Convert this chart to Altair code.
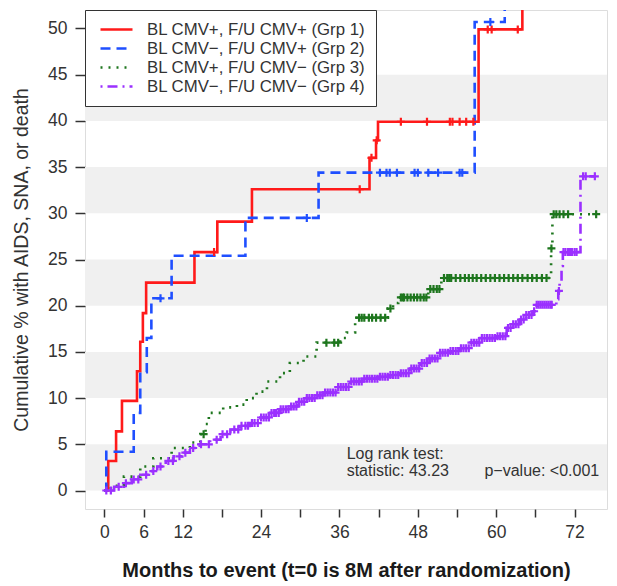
import altair as alt
import numpy as np
import pandas as pd

FONT = "Liberation Sans"

groups = [
    "BL CMV+, F/U CMV+ (Grp 1)",
    "BL CMV\u2212, F/U CMV+ (Grp 2)",
    "BL CMV+, F/U CMV\u2212 (Grp 3)",
    "BL CMV\u2212, F/U CMV\u2212 (Grp 4)",
]
colors = ["#FF1A1A", "#1F4FFF", "#1E761E", "#9B30FF"]
dashes = [[1, 0], [10, 6], [2, 6], [2, 5, 10, 5]]

# Group 1 (red)
g1_t = [0, 0.6, 1.8, 2.7, 5.0, 5.5, 5.9, 6.4, 13.8, 17.3, 22.6, 40.6, 41.6, 41.9, 57.3, 64.0]
g1_v = [0, 3.2, 6.4, 9.7, 12.9, 16.1, 19.2, 22.5, 25.8, 29.1, 32.6, 36.0, 37.9, 39.9, 49.9, 57.0]
g1_c = [16.8, 39.1, 40.9, 41.7, 45.4, 49.4, 52.9, 53.3, 54.4, 55.4, 56.5, 58.7, 59.3, 63.3]

# Group 2 (blue)
g2_t = [0, 0.3, 4.5, 5.5, 6.5, 7.2, 10.3, 21.6, 32.8, 56.7, 61.3]
g2_v = [0, 4.2, 8.4, 12.8, 16.5, 20.8, 25.4, 29.5, 34.4, 50.7, 55.0]
g2_c = [8.6, 31.0, 42.2, 43.2, 43.7, 44.8, 47.5, 48.0, 49.6, 51.1, 54.4, 54.8, 59.1]

# Group 3 (green)
g3_t = [0, 1.0, 3.0, 5.5, 7.5, 10.3, 13.1, 14.7, 15.5, 16.0, 18.2, 20.3, 21.8, 23.3, 24.9,
        26.9, 28.4, 30.5, 32.5, 36.1, 37.1, 38.4, 43.4, 44.2, 45.0, 49.6, 51.6, 68.4, 68.6, 75.3]
g3_v = [0, 0.5, 1.5, 2.6, 3.5, 4.6, 5.2, 6.1, 7.2, 8.4, 9.0, 9.3, 10.0, 10.7, 11.8,
        12.7, 13.8, 14.5, 16.0, 16.5, 17.1, 18.7, 19.7, 20.3, 20.9, 21.8, 23.0, 26.2, 29.9, 29.9]
g3_c = [15.2, 34.0, 35.2, 35.8, 39.0, 39.4, 39.8, 40.5, 41.0, 41.6, 42.3, 43.0, 43.8,
        45.4, 45.7, 45.9, 46.4, 46.9, 47.4, 47.9, 48.4, 48.9, 49.3, 49.9, 50.4, 50.9, 51.3,
        52.0, 52.5, 52.8, 53.1, 53.8, 54.5, 55.2, 55.8, 56.4, 57.0, 57.7, 58.4, 59.1, 59.8,
        60.5, 61.2, 61.9, 62.6, 63.3, 64.0, 64.8, 65.5, 66.2, 67.0, 67.7, 68.45,
        68.8, 69.2, 69.7, 70.3, 71.0, 75.3]

# Group 4 (purple)
g4_t = [0, 1.5, 3.0, 4.2, 5.5, 6.8, 8.1, 9.4, 10.6, 11.9, 13.1, 14.6, 16.2, 17.8, 19.3, 20.8,
        22.3, 23.9, 25.4, 26.9, 28.4, 29.7, 31.0, 32.3, 33.5, 35.5, 37.6, 39.5, 42.0, 43.5,
        45.3, 46.8, 48.3, 49.8, 51.4, 53.0, 54.4, 56.0, 57.5, 60.0, 61.6, 62.6, 63.6, 64.6,
        65.6, 66.2, 69.2, 69.5, 69.7, 70.0, 70.2, 72.9, 75.2]
g4_v = [0, 0.4, 0.8, 1.2, 1.7, 2.1, 2.6, 3.2, 3.7, 4.1, 4.6, 5.0, 5.5, 6.1, 6.6, 7.0,
        7.3, 7.9, 8.4, 8.8, 9.1, 9.6, 10.0, 10.3, 10.6, 11.2, 11.8, 12.1, 12.3, 12.5,
        12.7, 13.2, 13.8, 14.3, 14.9, 15.1, 15.4, 16.0, 16.5, 16.7, 17.6, 18.0, 18.5, 19.0,
        19.4, 20.1, 20.7, 21.6, 22.7, 24.3, 25.8, 34.0, 34.0]
g4_c = [0.3, 1.0, 2.2, 3.3, 4.5, 5.2, 6.4, 7.5, 8.6, 9.8, 10.5, 11.5, 12.4, 13.6, 14.8,
        16.0, 17.2, 18.1, 18.8, 19.9, 20.5, 21.0, 21.6, 22.0, 22.6, 23.0, 23.5, 24.0, 24.4,
        24.8, 25.2, 25.6, 26.0, 26.3, 26.7, 27.0, 27.4, 27.8, 28.2, 28.6, 29.0, 29.4, 29.8,
        30.2, 30.6, 31.0, 31.4, 31.8, 32.2, 32.6, 33.0, 33.4, 33.8, 34.2, 34.6, 35.0, 35.4,
        35.8, 36.2, 36.6, 37.0, 37.4, 37.8, 38.2, 38.6, 39.0, 39.4, 39.8, 40.2, 40.6, 41.0,
        41.4, 41.8, 42.2, 42.6, 43.0, 43.4, 43.8, 44.2, 44.6, 45.0, 45.4, 45.8, 46.2, 46.6,
        47.0, 47.4, 47.8, 48.2, 48.6, 49.0, 49.4, 49.8, 50.2, 50.6, 51.0, 51.4, 51.8, 52.2,
        52.6, 53.0, 53.4, 53.8, 54.2, 54.6, 55.0, 55.4, 55.8, 56.2, 56.6, 57.0, 57.4, 57.8,
        58.2, 58.6, 59.0, 59.4, 59.8, 60.2, 60.6, 61.0, 61.4, 61.8, 62.2, 62.6, 63.0, 63.4,
        63.8, 64.2, 64.6, 65.0, 65.4, 65.8, 66.2, 66.5, 66.8, 67.1, 67.4, 67.7, 68.0, 68.3,
        68.5, 69.6, 70.3, 70.6, 71.0, 71.3, 71.6, 72.0, 72.3, 73.3, 73.7, 75.1]

band_lo = [0, 10, 20, 30, 40]
band_hi = [5, 15, 25, 35, 45]

x_ticks = list(range(0, 73, 6))
y_ticks = list(range(0, 51, 5))

curves = [(g1_t, g1_v, g1_c), (g2_t, g2_v, g2_c), (g3_t, g3_v, g3_c), (g4_t, g4_v, g4_c)]

line_rows, cens_rows = [], []
for g, (t, v, c) in zip(groups, curves):
    for ti, vi in zip(t, v):
        line_rows.append({"t": ti, "v": vi, "grp": g})
    ta = np.array(t)
    for ci in c:
        idx = int(np.searchsorted(ta, ci, side="right")) - 1
        cens_rows.append({"t": ci, "v": v[idx], "grp": g})

lines_df = pd.DataFrame(line_rows)
cens_df = pd.DataFrame(cens_rows)
bands_df = pd.DataFrame({"lo": band_lo, "hi": band_hi})

W, H = 522, 499
xscale = alt.Scale(domain=[-2.96, 76.96], nice=False, zero=False)
yscale = alt.Scale(domain=[-2, 52], nice=False, zero=False)
cscale = alt.Scale(domain=groups, range=colors)
dscale = alt.Scale(domain=groups, range=dashes)

legend = alt.Legend(
    title=None, orient="none", legendX=0, legendY=0,
    symbolType="stroke", symbolSize=1024, symbolStrokeWidth=2.5,
    clipHeight=19, rowPadding=0, labelFontSize=16.8, labelFont=FONT,
    labelColor="#333333", labelOffset=13, padding=10, symbolOffset=4,
    strokeColor="#333333", fillColor="white", labelLimit=400,
)

bands = alt.Chart(bands_df).mark_rect(color="#F0F0F0").encode(
    y=alt.Y("lo:Q", scale=yscale),
    y2="hi:Q",
    x=alt.value(0),
    x2=alt.value(W),
)

xaxis = alt.Axis(
    values=x_ticks,
    labelExpr="datum.value <= 12 || datum.value % 12 == 0 ? datum.label : ''",
    grid=False, domain=False, tickSize=8, tickWidth=1.5, tickColor="#333333",
    labelPadding=6, labelFontSize=17.5, labelFont=FONT, labelColor="#333333",
    labelFlush=False, labelOverlap=False,
    title="Months to event (t=0 is 8M after randomization)",
    titleFontSize=20, titleFont=FONT, titleFontWeight="bold", titleColor="#1a1a1a",
    titlePadding=20,
)
yaxis = alt.Axis(
    values=y_ticks, grid=False, domain=False, tickSize=10, tickWidth=1.5,
    tickColor="#333333", labelPadding=8, labelFontSize=17.5, labelFont=FONT,
    labelColor="#333333", labelOverlap=False,
    title="Cumulative %  with AIDS, SNA, or death",
    titleFontSize=19.5, titleFont=FONT, titleFontWeight="normal", titleColor="#333333",
    titlePadding=16,
)

lines = alt.Chart(lines_df).mark_line(interpolate="step-after", strokeWidth=2.6, clip=True).encode(
    x=alt.X("t:Q", scale=xscale, axis=xaxis),
    y=alt.Y("v:Q", scale=yscale, axis=yaxis),
    color=alt.Color("grp:N", scale=cscale, legend=legend),
    strokeDash=alt.StrokeDash("grp:N", scale=dscale, legend=legend),
    detail="grp:N",
)

cens = alt.Chart(cens_df).mark_point(
    shape="M-1,0H1M0,-1V1", size=64, strokeWidth=2.2, filled=False, opacity=1, clip=True
).encode(
    x=alt.X("t:Q", scale=xscale),
    y=alt.Y("v:Q", scale=yscale),
    color=alt.Color("grp:N", scale=cscale, legend=None),
)

txt_style = dict(align="left", baseline="middle", fontSize=16, font=FONT, color="#333333")
t1 = alt.Chart().mark_text(text="Log rank test:", **txt_style).encode(
    x=alt.datum(37.1, scale=xscale), y=alt.datum(3.9, scale=yscale))
t2 = alt.Chart().mark_text(text="statistic: 43.23", **txt_style).encode(
    x=alt.datum(37.1, scale=xscale), y=alt.datum(2.1, scale=yscale))
t3 = alt.Chart().mark_text(text="p\u2212value: <0.001", **txt_style).encode(
    x=alt.datum(58.2, scale=xscale), y=alt.datum(2.1, scale=yscale))

chart = alt.layer(bands, lines, cens, t1, t2, t3).properties(
    width=W, height=H,
    autosize=alt.AutoSizeParams(type="none"),
    padding={"left": 77, "top": 2, "right": 2, "bottom": 74},
).configure_view(stroke="#444444", strokeWidth=1.5).configure(background="white")

chart.save("out.html", embed_options={"renderer": "svg", "actions": False})
